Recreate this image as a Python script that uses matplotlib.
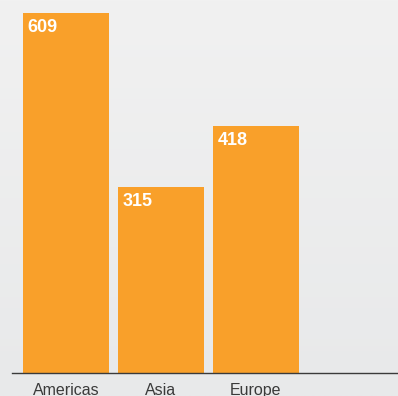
import matplotlib
matplotlib.use("Agg")
import matplotlib.pyplot as plt
import numpy as np

categories = ["Americas", "Asia", "Europe"]
values = [609, 315, 418]

W, H = 398, 396
fig = plt.figure(figsize=(W / 100, H / 100), dpi=100)

# background gradient
bg = fig.add_axes([0, 0, 1, 1], zorder=-10)
grad = np.linspace(0, 1, 256).reshape(-1, 1)
c_top = np.array([0xf1, 0xf1, 0xf1]) / 255
c_bot = np.array([0xe8, 0xe9, 0xea]) / 255
img = c_top[None, None, :] * (1 - grad[:, :, None]) + c_bot[None, None, :] * grad[:, :, None]
bg.imshow(img, aspect="auto", extent=[0, 1, 0, 1], origin="upper")
bg.axis("off")

base_px = 373
top_px = 13
ax = fig.add_axes([12 / W, (H - base_px) / H, 1 - 12 / W, base_px / H])
ax.patch.set_alpha(0)

x = np.arange(len(categories))
bars = ax.bar(x, values, width=86 / 95, color="#F9A02A", zorder=2)

ymax = values[0] * base_px / (base_px - top_px)
ax.set_ylim(0, ymax)
ax.set_xlim(-0.568, 3.495)

for b, v in zip(bars, values):
    ax.annotate(str(v), xy=(b.get_x(), v), xytext=(3.5, -4.5), textcoords="offset points",
                ha="left", va="top", color="white", fontsize=13, fontweight="bold",
                family=["Liberation Sans", "DejaVu Sans"])

for s in ["top", "right", "left"]:
    ax.spines[s].set_visible(False)
ax.spines["bottom"].set_color("#3a3a3a")
ax.spines["bottom"].set_linewidth(1.0)
ax.set_yticks([])
ax.set_xticks(x)
ax.set_xticklabels(categories, fontsize=11.5, color="#3a3a3a", family=["Liberation Sans", "DejaVu Sans"])
ax.tick_params(axis="x", length=0, pad=7.5)

fig.savefig("out.png", dpi=100)
